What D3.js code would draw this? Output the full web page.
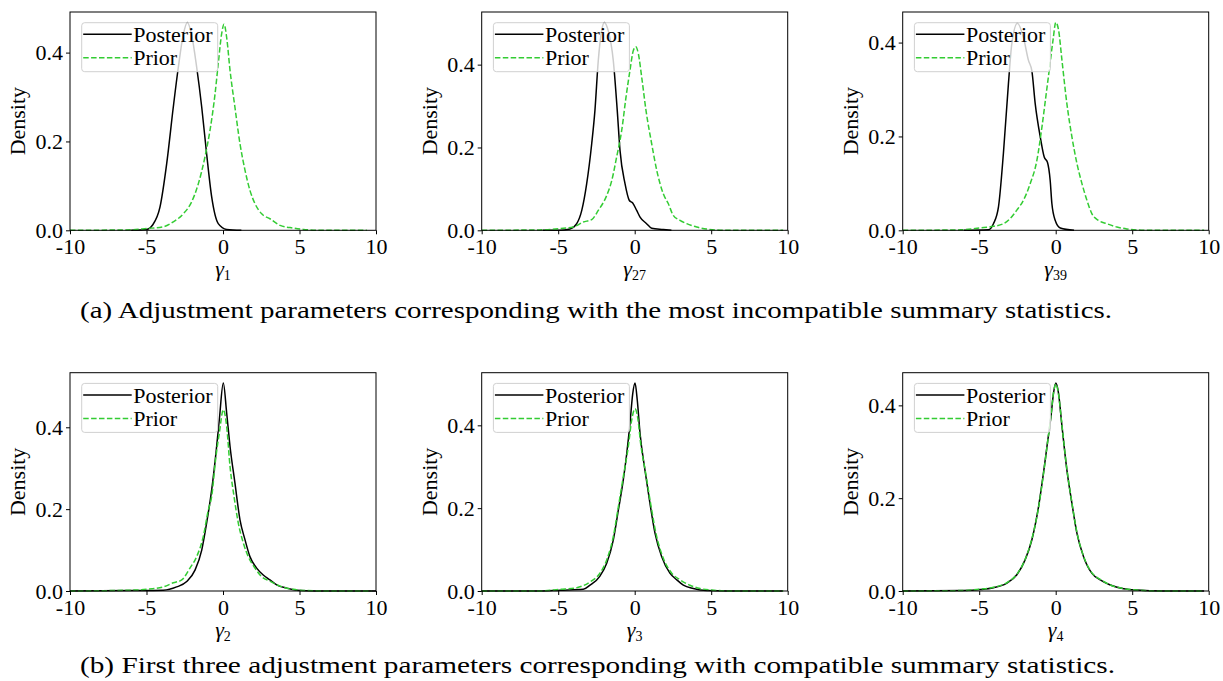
<!DOCTYPE html>
<html>
<head>
<meta charset="utf-8">
<script src="https://d3js.org/d3.v7.min.js"></script>
<style>
  body { margin: 0; background: #fff; }
  text { font-family: "Liberation Serif", "Times New Roman", serif; }
</style>
</head>
<body>
<svg id="fig" width="1223" height="681"></svg>
<script>
// density curves, [gamma, density]
const post1 = [[-6,0],[-5.2,0.001],[-4.88,0.003],[-4.6,0.012],[-4.12,0.052],[-3.68,0.15],[-3.25,0.277],[-2.92,0.367],[-2.6,0.44],[-2.33,0.468],[-2.05,0.44],[-1.72,0.367],[-1.39,0.277],[-1.07,0.172],[-0.74,0.075],[-0.31,0.015],[0.24,0.002],[1.2,0]];
const prior1 = [[-10,0],[-6,0.001],[-5,0.004],[-3.9,0.008],[-3.25,0.019],[-2.6,0.037],[-2.05,0.064],[-1.61,0.105],[-1.18,0.165],[-0.85,0.225],[-0.52,0.307],[-0.31,0.375],[-0.09,0.442],[0.07,0.464],[0.24,0.434],[0.46,0.36],[0.78,0.277],[1.11,0.195],[1.44,0.135],[1.76,0.09],[2.09,0.06],[2.53,0.037],[3.07,0.026],[3.73,0.011],[4.6,0.005],[5.25,0.002],[6.5,0],[9.4,0]];

const post27 = [[-6,0],[-4.6,0.001],[-4.23,0.003],[-3.79,0.016],[-3.46,0.048],[-3.14,0.112],[-2.81,0.209],[-2.6,0.289],[-2.38,0.41],[-2.16,0.482],[-1.99,0.502],[-1.73,0.482],[-1.4,0.41],[-1.14,0.289],[-0.96,0.193],[-0.63,0.112],[-0.35,0.072],[-0.13,0.066],[0.13,0.048],[0.35,0.032],[0.78,0.016],[1.11,0.005],[1.87,0.002],[2.4,0]];
const prior27 = [[-10,0],[-6.2,0.001],[-4.88,0.004],[-4.01,0.008],[-3.36,0.02],[-2.81,0.026],[-2.38,0.048],[-1.83,0.084],[-1.5,0.12],[-1.18,0.177],[-0.85,0.241],[-0.57,0.321],[-0.31,0.386],[-0.09,0.434],[0.07,0.443],[0.24,0.426],[0.46,0.369],[0.74,0.289],[1.11,0.209],[1.44,0.145],[1.87,0.088],[2.2,0.064],[2.52,0.036],[2.96,0.024],[3.4,0.016],[4.05,0.008],[4.7,0.003],[6,0],[9.7,0]];

const post39 = [[-6,0],[-4.4,0.001],[-4.07,0.014],[-3.74,0.05],[-3.42,0.163],[-3.09,0.312],[-2.87,0.397],[-2.5,0.441],[-2.11,0.411],[-1.78,0.362],[-1.56,0.34],[-1.34,0.27],[-1.01,0.199],[-0.75,0.156],[-0.54,0.145],[-0.36,0.106],[-0.25,0.057],[-0.03,0.021],[0.3,0.005],[1.2,0]];
const prior39 = [[-10,0],[-6.2,0.001],[-4.94,0.005],[-4.07,0.0085],[-3.42,0.014],[-2.98,0.025],[-2.54,0.043],[-2.11,0.064],[-1.67,0.099],[-1.23,0.149],[-0.9,0.22],[-0.62,0.291],[-0.4,0.347],[-0.18,0.404],[0.01,0.443],[0.19,0.426],[0.41,0.362],[0.73,0.27],[1.06,0.199],[1.39,0.142],[1.72,0.099],[2.04,0.064],[2.37,0.035],[2.8,0.021],[3.35,0.014],[4.0,0.007],[4.65,0.003],[6,0],[9.7,0]];

const post2 = [[-10,0],[-6,0.001],[-3.9,0.002],[-3.03,0.01],[-2.37,0.023],[-1.83,0.051],[-1.39,0.1],[-1.07,0.166],[-0.74,0.247],[-0.46,0.337],[-0.24,0.419],[0.02,0.508],[0.24,0.435],[0.46,0.353],[0.78,0.264],[1.11,0.174],[1.44,0.125],[1.76,0.084],[2.2,0.056],[2.63,0.039],[3.07,0.027],[3.51,0.015],[4.16,0.007],[4.81,0.002],[6,0],[10,0]];
const prior2 = [[-10,0],[-6.08,0.002],[-5,0.004],[-3.9,0.01],[-3.25,0.02],[-2.7,0.027],[-2.16,0.056],[-1.72,0.084],[-1.29,0.133],[-0.96,0.198],[-0.74,0.231],[-0.46,0.329],[-0.24,0.386],[0.02,0.443],[0.24,0.402],[0.46,0.304],[0.72,0.231],[1.0,0.166],[1.33,0.117],[1.65,0.084],[2.09,0.056],[2.53,0.035],[3.07,0.024],[3.73,0.012],[4.6,0.004],[5.5,0.001],[7,0],[9.7,0]];

const post3 = [[-10,0],[-6.19,0],[-4.88,0.002],[-3.36,0.004],[-2.92,0.014],[-2.27,0.036],[-1.83,0.067],[-1.4,0.123],[-1.07,0.195],[-0.75,0.267],[-0.52,0.332],[-0.31,0.404],[-0.13,0.476],[0.02,0.502],[0.17,0.46],[0.35,0.38],[0.67,0.292],[1.0,0.211],[1.33,0.139],[1.76,0.083],[2.3,0.043],[2.75,0.027],[3.18,0.014],[3.83,0.006],[4.7,0.001],[6,0],[9.7,0]];
const prior3 = [[-10,0],[-6.19,0],[-4.88,0.004],[-3.79,0.008],[-2.92,0.022],[-2.27,0.043],[-1.83,0.075],[-1.4,0.131],[-1.07,0.203],[-0.75,0.275],[-0.42,0.348],[-0.2,0.412],[0.02,0.44],[0.19,0.42],[0.39,0.356],[0.72,0.284],[1.04,0.211],[1.39,0.139],[1.87,0.079],[2.42,0.043],[2.96,0.027],[3.61,0.014],[4.27,0.006],[5.14,0.002],[6.5,0],[9.7,0]];

const post4 = [[-10,0],[-6.03,0.001],[-4.94,0.003],[-4.07,0.007],[-3.19,0.017],[-2.54,0.035],[-2.0,0.067],[-1.56,0.11],[-1.12,0.182],[-0.8,0.254],[-0.54,0.319],[-0.31,0.376],[-0.14,0.427],[0.01,0.448],[0.18,0.427],[0.41,0.355],[0.73,0.261],[1.06,0.189],[1.39,0.124],[1.82,0.074],[2.37,0.038],[2.91,0.024],[3.57,0.013],[4.44,0.005],[5.3,0.002],[7,0],[9.7,0]];
const prior4 = [[-10,0],[-6.03,0.001],[-4.94,0.004],[-4.07,0.008],[-3.19,0.018],[-2.54,0.036],[-2.0,0.068],[-1.56,0.112],[-1.12,0.18],[-0.8,0.252],[-0.54,0.318],[-0.31,0.378],[-0.14,0.428],[0.01,0.446],[0.18,0.425],[0.41,0.357],[0.73,0.263],[1.06,0.19],[1.39,0.126],[1.82,0.075],[2.37,0.039],[2.91,0.025],[3.57,0.013],[4.44,0.005],[5.3,0.002],[7,0],[9.7,0]];

const subscripts = ['1', '27', '39', '2', '3', '4'];
const posteriors = [post1, post27, post39, post2, post3, post4];
const priors = [prior1, prior27, prior39, prior2, prior3, prior4];
const xTicks = [-10, -5, 0, 5, 10];
const yTicks = [0, 0.2, 0.4];
const seriesNames = ['Posterior', 'Prior'];
const captions = [
  '(a) Adjustment parameters corresponding with the most incompatible summary statistics.',
  '(b) First three adjustment parameters corresponding with compatible summary statistics.'
];

// layout
const colLeft = [70, 481.7, 902.7];
const rowTop = [12, 372.7];
const plotW = 306, plotH = 218.3;
const green = '#33cc33';

const svg = d3.select('#fig');

posteriors.forEach((post, i) => {
  const prior = priors[i];
  const left = colLeft[i % 3], top = rowTop[Math.floor(i / 3)];
  const g = svg.append('g').attr('transform', `translate(${left},${top})`);

  const x = d3.scaleLinear().domain([-10, 10]).range([0, plotW]);
  const ymax = d3.max(post.concat(prior), d => d[1]) * 1.05;
  const y = d3.scaleLinear().domain([0, ymax]).range([plotH, 0]);

  const line = d3.line().x(d => x(d[0])).y(d => y(d[1])).curve(d3.curveMonotoneX);

  g.append('path').datum(post)
    .attr('d', line).attr('fill', 'none')
    .attr('stroke', '#000').attr('stroke-width', 1.5);
  g.append('path').datum(prior)
    .attr('d', line).attr('fill', 'none')
    .attr('stroke', green).attr('stroke-width', 1.5)
    .attr('stroke-dasharray', '5.5,2.4');

  // frame
  g.append('rect').attr('width', plotW).attr('height', plotH)
    .attr('fill', 'none').attr('stroke', '#000').attr('stroke-width', 1);

  const xAxis = g.append('g').attr('transform', `translate(0,${plotH})`)
    .call(d3.axisBottom(x).tickValues(xTicks).tickSize(4).tickPadding(4)
      .tickFormat(d => d.toString()));
  const yAxis = g.append('g')
    .call(d3.axisLeft(y).tickValues(yTicks).tickSize(4).tickPadding(3)
      .tickFormat(d3.format('.1f')));
  [xAxis, yAxis].forEach(ax => {
    ax.select('.domain').remove();
    ax.selectAll('text').attr('font-family', '"Liberation Serif", serif')
      .attr('font-size', 22).attr('fill', '#000');
    ax.selectAll('line').attr('stroke', '#000');
  });

  g.append('text')
    .attr('transform', `translate(-45,${plotH / 2}) rotate(-90)`)
    .attr('text-anchor', 'middle').attr('font-size', 22)
    .text('Density');

  const xl = g.append('text')
    .attr('x', plotW / 2).attr('y', plotH + 46)
    .attr('text-anchor', 'middle').attr('font-size', 22);
  xl.append('tspan').attr('font-style', 'italic').text('γ');
  xl.append('tspan').attr('font-size', 14).attr('dy', 4).text(subscripts[i]);

  // legend
  const lg = g.append('g').attr('transform', 'translate(11.7,10.7)');
  lg.append('rect').attr('width', 136).attr('height', 49).attr('rx', 3)
    .attr('fill', '#fff').attr('fill-opacity', 0.8)
    .attr('stroke', '#d0d0d0').attr('stroke-width', 1);
  seriesNames.forEach((name, k) => {
    const ly = 11.5 + k * 23.5;
    lg.append('line').attr('x1', 1.5).attr('x2', 50).attr('y1', ly).attr('y2', ly)
      .attr('stroke', k === 0 ? '#000' : green).attr('stroke-width', 1.5)
      .attr('stroke-dasharray', k === 0 ? null : '5.5,2.4');
    lg.append('text').attr('x', 51.5).attr('y', ly + 7.8)
      .attr('font-size', 22).text(name);
  });
});

captions.forEach((c, k) => {
  svg.append('text')
    .attr('x', 80).attr('y', k === 0 ? 318 : 673)
    .attr('font-size', 24)
    .attr('textLength', k === 0 ? 1032 : 1035)
    .attr('lengthAdjust', 'spacingAndGlyphs')
    .text(c);
});
</script>
</body>
</html>
